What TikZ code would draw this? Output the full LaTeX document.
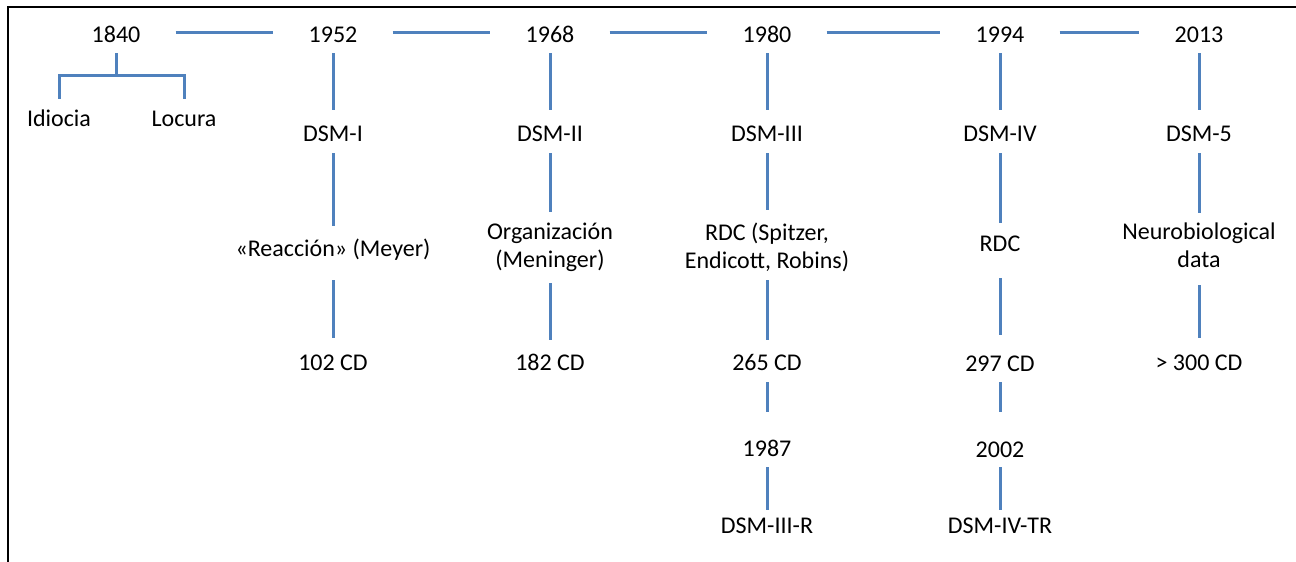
\documentclass[tikz,border=0pt]{standalone}
\usepackage{fontspec}
\setmainfont{Carlito}
\definecolor{lineblue}{RGB}{79,129,189}
\tikzset{
  conn/.style={draw=lineblue, line width=3pt},
  lbl/.style={anchor=base, inner sep=0pt, font=\fontsize{24}{28}\selectfont, text=black, align=center},
  yearlbl/.style={lbl, text height=16pt, text depth=0pt},
  frame/.style={draw=black, line width=2pt}
}
\begin{document}
\begin{tikzpicture}[x=1pt,y=-1pt]
\useasboundingbox (0,0) rectangle (1296,562);
% frame (top and left)
\coordinate (ftl) at (8,7);
\coordinate (ftr) at (1300,7);
\coordinate (fbl) at (8,566);
\draw[frame] (ftr) -- (ftl) -- (fbl);

% years
\node[yearlbl] (y1840) at (116,42) {1840};
\node[yearlbl] (y1952) at (333,42) {1952};
\node[yearlbl] (y1968) at (550,42) {1968};
\node[yearlbl] (y1980) at (767,42) {1980};
\node[yearlbl] (y1994) at (1000,42) {1994};
\node[yearlbl] (y2013) at (1199,42) {2013};

\foreach \a/\b in {y1840/y1952, y1952/y1968, y1968/y1980, y1980/y1994, y1994/y2013}
  \draw[conn, shorten <=35pt, shorten >=35pt] ([yshift=2pt]\a.east) -- ([yshift=2pt]\b.west);

% 1840
\node[lbl] (idiocia) at (59,126) {Idiocia};
\node[lbl] (locura) at (184,126) {Locura};
\coordinate (t1840) at (116,75);
\draw[conn] (y1840.south |- 0,53) -- (t1840);
\draw[conn, line cap=rect] (idiocia.north |- 0,97) -- (idiocia.north |- t1840) -- (locura.north |- t1840) -- (locura.north |- 0,97);

% 1952
\node[lbl] (dsm1) at (333,141) {DSM-I};
\node[lbl] (reac) at (333,256) {«Reacción» (Meyer)};
\node[lbl] (cd102) at (333,370) {102 CD};
\draw[conn] (y1952.south |- 0,53) -- (dsm1.north |- 0,110);
\draw[conn] (dsm1.south |- 0,153) -- (reac.north |- 0,226);
\draw[conn] (reac.south |- 0,280) -- (cd102.north |- 0,338);

% 1968
\node[lbl] (dsm2) at (550,141) {DSM-II};
\node[lbl] (organ) at (550,267) {Organización\\(Meninger)};
\node[lbl] (cd182) at (550,370) {182 CD};
\draw[conn] (y1968.south |- 0,53) -- (dsm2.north |- 0,110);
\draw[conn] (dsm2.south |- 0,153) -- (organ.north |- 0,212);
\draw[conn] (organ.south |- 0,283) -- (cd182.north |- 0,340);

% 1980
\node[lbl] (dsm3) at (767,141) {DSM-III};
\node[lbl] (rdc3) at (767,268) {RDC (Spitzer,\\Endicott, Robins)};
\node[lbl] (cd265) at (767,370) {265 CD};
\node[lbl] (y1987) at (767,456) {1987};
\node[lbl] (dsm3r) at (767,533) {DSM-III-R};
\draw[conn] (y1980.south |- 0,53) -- (dsm3.north |- 0,110);
\draw[conn] (dsm3.south |- 0,153) -- (rdc3.north |- 0,210);
\draw[conn] (rdc3.south |- 0,280) -- (cd265.north |- 0,340);
\draw[conn] (cd265.south |- 0,382) -- (y1987.north |- 0,412);
\draw[conn] (y1987.south |- 0,467) -- (dsm3r.north |- 0,510);

% 1994
\node[lbl] (dsm4) at (1000,141) {DSM-IV};
\node[lbl] (rdc4) at (1000,251) {RDC};
\node[lbl] (cd297) at (1000,371) {297 CD};
\node[lbl] (y2002) at (1000,457) {2002};
\node[lbl] (dsm4tr) at (1000,533) {DSM-IV-TR};
\draw[conn] (y1994.south |- 0,53) -- (dsm4.north |- 0,110);
\draw[conn] (dsm4.south |- 0,153) -- (rdc4.north |- 0,223);
\draw[conn] (rdc4.south |- 0,278) -- (cd297.north |- 0,335);
\draw[conn] (cd297.south |- 0,382) -- (y2002.north |- 0,412);
\draw[conn] (y2002.south |- 0,467) -- (dsm4tr.north |- 0,510);

% 2013
\node[lbl] (dsm5) at (1199,141) {DSM-5};
\node[lbl] (neuro) at (1199,267) {Neurobiological\\data};
\node[lbl] (cd300) at (1199,370) {> 300 CD};
\draw[conn] (y2013.south |- 0,53) -- (dsm5.north |- 0,110);
\draw[conn] (dsm5.south |- 0,153) -- (neuro.north |- 0,213);
\draw[conn] (neuro.south |- 0,285) -- (cd300.north |- 0,338);
\end{tikzpicture}
\end{document}
